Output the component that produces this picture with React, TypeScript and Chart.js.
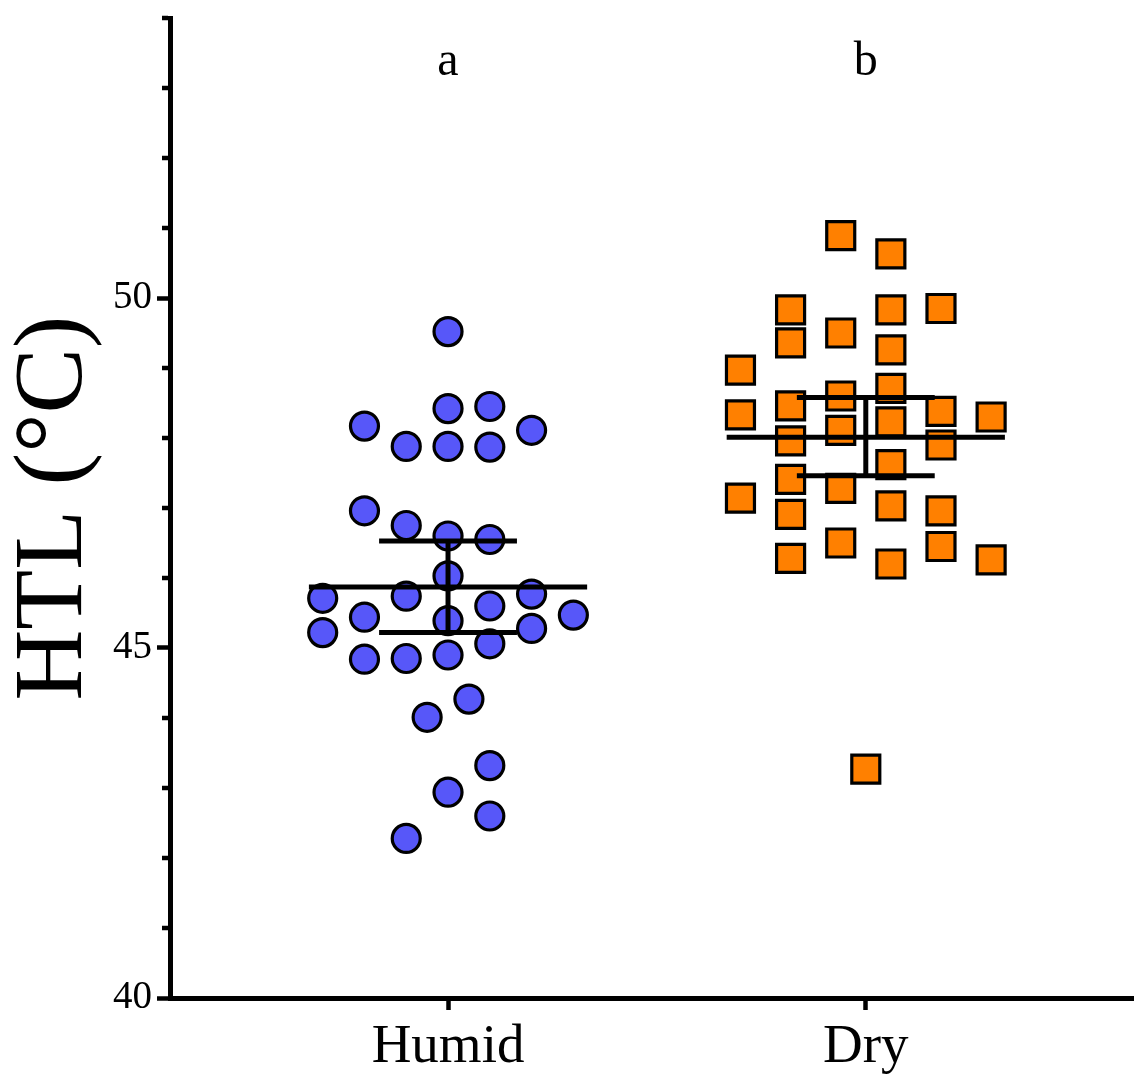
import React, { useEffect, useRef } from 'react';
import { Chart, registerables } from 'chart.js';

Chart.register(...registerables);

// ---- data ----
const groups = ['Humid', 'Dry'];
const sigLetters = ['a', 'b'];
const sigLetterLevel = 53.19;

const humidValues = [
  49.52, 48.42, 48.45, 48.17, 48.11, 47.88, 47.88, 47.87, 46.96, 46.75, 46.6, 46.55,
  46.03, 45.71, 45.74, 45.77, 45.44, 45.6, 45.39, 45.47, 45.22, 45.28, 45.06, 44.84,
  44.85, 44.9, 44.27, 44.01, 43.32, 42.94, 42.6, 42.28,
];
const humidColumns = [
  0, 0, 1, -2, 2, -1, 0, 1, -2, -1, 0, 1,
  0, -3, -1, 2, -2, 1, 0, 3, -3, 2, 1, -2,
  -1, 0, 0.5, -0.5, 1, 0, 1, -1,
];

const dryValues = [
  48.97, 48.33, 47.14,
  49.83, 49.36, 48.46, 47.96, 47.41, 46.91, 46.28,
  50.89, 49.5, 48.6, 48.11, 47.28, 46.5,
  43.27,
  50.63, 49.83, 49.26, 48.71, 48.23, 47.62, 47.03, 46.2,
  49.85, 48.38, 47.9, 46.96, 46.45,
  48.3, 46.26,
];
const dryColumns = [
  -2.5, -2.5, -2.5,
  -1.5, -1.5, -1.5, -1.5, -1.5, -1.5, -1.5,
  -0.5, -0.5, -0.5, -0.5, -0.5, -0.5,
  0,
  0.5, 0.5, 0.5, 0.5, 0.5, 0.5, 0.5, 0.5,
  1.5, 1.5, 1.5, 1.5, 1.5,
  2.5, 2.5,
];

const meanHTL = [45.87, 48.01];
const upperHTL = [46.53, 48.58];
const lowerHTL = [45.22, 47.46];

// ---- style ----
const FONT = '"Liberation Serif", "Times New Roman", serif';
const HUMID_STEP = 0.1;
const DRY_STEP = 0.12;
const MEAN_HALF = 0.333;
const CAP_HALF = 0.165;

const seg = (x1: number, y1: number, x2: number, y2: number) => ({
  type: 'line' as const,
  data: [{ x: x1, y: y1 }, { x: x2, y: y2 }],
  borderColor: '#000',
  borderWidth: 5,
  pointRadius: 0,
  pointHoverRadius: 0,
  showLine: true,
  fill: false,
  borderCapStyle: 'butt' as const,
  order: 0,
});

const extraPlugin = {
  id: 'extras',
  afterDraw(chart: any) {
    const { ctx, scales, chartArea } = chart;
    const x = scales.x;
    const y = scales.y;
    ctx.save();
    // minor y ticks
    ctx.strokeStyle = '#000';
    ctx.lineWidth = 4.5;
    y.ticks.forEach((t: any) => {
      if (t.value % 5 !== 0) {
        const py = y.getPixelForValue(t.value);
        ctx.beginPath();
        ctx.moveTo(chartArea.left - 8, py);
        ctx.lineTo(chartArea.left - 2, py);
        ctx.stroke();
      }
    });
    // significance letters
    ctx.fillStyle = '#000';
    ctx.font = `48px ${FONT}`;
    ctx.textAlign = 'center';
    ctx.textBaseline = 'alphabetic';
    sigLetters.forEach((l, i) => {
      ctx.fillText(l, x.getPixelForValue(i + 1), y.getPixelForValue(sigLetterLevel));
    });
    ctx.restore();
  },
};

export default function App() {
  const ref = useRef<HTMLCanvasElement>(null);

  useEffect(() => {
    document.body.style.margin = '0';
    const ctx = ref.current!.getContext('2d')!;

    const lineSets: any[] = [];
    groups.forEach((_, i) => {
      const c = i + 1;
      lineSets.push(seg(c - MEAN_HALF, meanHTL[i], c + MEAN_HALF, meanHTL[i]));
      lineSets.push(seg(c - CAP_HALF, upperHTL[i], c + CAP_HALF, upperHTL[i]));
      lineSets.push(seg(c - CAP_HALF, lowerHTL[i], c + CAP_HALF, lowerHTL[i]));
      lineSets.push(seg(c, lowerHTL[i], c, upperHTL[i]));
    });

    const chart = new Chart(ctx, {
      type: 'scatter',
      data: {
        datasets: [
          ...lineSets,
          {
            label: 'Humid',
            data: humidValues.map((v, k) => ({ x: 1 + humidColumns[k] * HUMID_STEP, y: v })),
            pointStyle: 'circle',
            pointRadius: 14,
            pointHoverRadius: 14,
            backgroundColor: '#5757F9',
            borderColor: '#000',
            borderWidth: 3.2,
            order: 1,
          },
          {
            label: 'Dry',
            data: dryValues.map((v, k) => ({ x: 2 + dryColumns[k] * DRY_STEP, y: v })),
            pointStyle: 'rect',
            pointRadius: 19.8,
            pointHoverRadius: 19.8,
            backgroundColor: '#FF8000',
            borderColor: '#000',
            borderWidth: 3.2,
            order: 1,
          },
        ],
      },
      options: {
        animation: false,
        responsive: true,
        maintainAspectRatio: false,
        layout: { autoPadding: false, padding: { top: 18, right: 0, left: 0, bottom: 0 } },
        plugins: { legend: { display: false }, tooltip: { enabled: false } },
        events: [],
        scales: {
          x: {
            type: 'linear',
            min: 0.3345,
            max: 2.642,
            afterBuildTicks: (scale: any) => {
              scale.ticks = groups.map((_, i) => ({ value: i + 1 }));
            },
            afterFit: (scale: any) => {
              scale.height = 77;
              scale.paddingLeft = 0;
              scale.paddingRight = 0;
            },
            ticks: {
              callback: (v: any) => groups[Number(v) - 1] ?? '',
              color: '#000',
              font: { family: FONT, size: 55 },
              padding: 5,
              maxRotation: 0,
              autoSkip: false,
            },
            grid: {
              drawOnChartArea: false,
              drawTicks: true,
              tickLength: 12,
              tickWidth: 4.5,
              tickColor: '#000',
            },
            border: { display: true, color: '#000', width: 5 },
          },
          y: {
            type: 'linear',
            min: 40,
            max: 54,
            afterFit: (scale: any) => {
              scale.width = 170;
              scale.paddingTop = 0;
              scale.paddingBottom = 0;
            },
            ticks: {
              stepSize: 1,
              callback: (v: any) => (Number(v) % 5 === 0 ? String(v) : ''),
              color: '#000',
              font: { family: FONT, size: 39 },
              padding: 5,
              autoSkip: false,
            },
            grid: {
              drawOnChartArea: false,
              drawTicks: true,
              tickLength: 13,
              tickWidth: 4.5,
              tickColor: (c: any) => (c.tick && c.tick.value % 5 === 0 ? '#000' : 'rgba(0,0,0,0)'),
            },
            border: { display: true, color: '#000', width: 5 },
            title: {
              display: true,
              text: 'HTL (°C)',
              color: '#000',
              font: { family: FONT, size: 98, lineHeight: 1 },
              padding: { top: 6, bottom: 0 },
            },
          },
        },
      },
      plugins: [extraPlugin],
    } as any);

    return () => chart.destroy();
  }, []);

  return (
    <div style={{ width: 1134, height: 1075, position: 'relative' }}>
      <canvas ref={ref} />
    </div>
  );
}
